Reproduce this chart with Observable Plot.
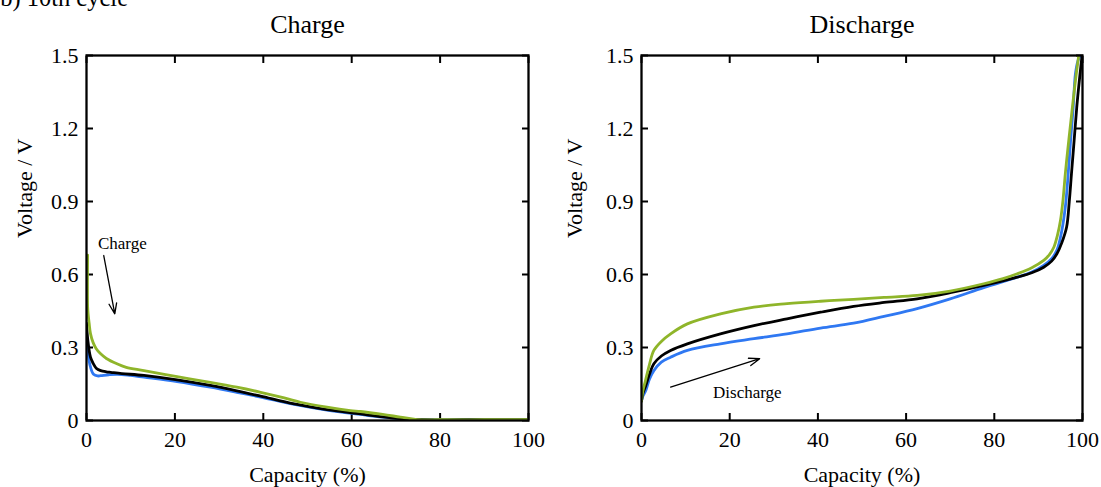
<!DOCTYPE html>
<html>
<head>
<meta charset="utf-8">
<script src="https://cdn.jsdelivr.net/npm/d3@7"></script>
<script src="https://cdn.jsdelivr.net/npm/@observablehq/plot@0.6"></script>
<style>
  html, body { margin: 0; padding: 0; background: #fff; }
  #wrap { position: relative; width: 1101px; height: 487px; overflow: hidden; }
  #left, #right { position: absolute; top: 0; }
  #left { left: 0; }
  #right { left: 550px; }
</style>
</head>
<body>
<div id="wrap"><div id="left"></div><div id="right"></div></div>
<script>
// ---- Data (Capacity %, Voltage V) ----
const panelTitles = ["Charge", "Discharge"];
const figureLabel = "(b) 10th cycle";
const xTicks = [0, 20, 40, 60, 80, 100];
const yTicks = [0, 0.3, 0.6, 0.9, 1.2, 1.5];
const yTickLabels = ["0", "0.3", "0.6", "0.9", "1.2", "1.5"];
const seriesColors = {blue: "#2f78f2", black: "#000000", green: "#8fb52a"};

// Charge
const chargeBlueCap = [0, 0.3, 0.9, 1.6, 2.5, 3.2, 5, 7, 10, 13, 20.5, 28, 34, 39.4, 47, 54.4, 62, 67, 72, 76, 85, 100];
const chargeBlueV   = [0.35, 0.28, 0.22, 0.19, 0.183, 0.184, 0.188, 0.19, 0.185, 0.178, 0.16, 0.137, 0.116, 0.096, 0.066, 0.043, 0.025, 0.014, 0.006, 0.003, 0.003, 0.003];
const chargeBlackCap = [0, 0.3, 0.9, 1.5, 2.2, 3.2, 4.5, 5.5, 8, 13, 20.5, 28, 34, 39.4, 47, 54.4, 62, 67, 72, 76, 85, 100];
const chargeBlackV   = [0.40, 0.33, 0.26, 0.235, 0.215, 0.205, 0.2, 0.198, 0.193, 0.185, 0.167, 0.144, 0.122, 0.1, 0.068, 0.045, 0.027, 0.015, 0.006, 0.003, 0.003, 0.003];
const chargeGreenCap = [0.25, 0.25, 0.35, 0.6, 0.9, 1.5, 2.2, 3.2, 4.5, 6.9, 9, 13, 20.5, 28, 34, 39.4, 44, 48.4, 54.4, 59.7, 62, 67, 71, 74.8, 80, 90, 100];
const chargeGreenV   = [0.68, 0.47, 0.44, 0.40, 0.357, 0.32, 0.295, 0.274, 0.255, 0.233, 0.218, 0.205, 0.18, 0.157, 0.137, 0.116, 0.096, 0.075, 0.055, 0.041, 0.037, 0.025, 0.014, 0.004, 0.003, 0.003, 0.004];

// Discharge
const dischBlueCap = [0, 0.3, 0.9, 1.8, 2.8, 4.5, 6.6, 10.4, 17.9, 25.5, 33, 40.6, 48.1, 55, 62.5, 70, 77.6, 85.2, 88.5, 91.2, 93, 94.2, 95.2, 96.1, 96.7, 97.3, 97.9, 98.4, 99, 99.5];
const dischBlueV   = [0.08, 0.1, 0.12, 0.17, 0.205, 0.24, 0.26, 0.288, 0.315, 0.336, 0.356, 0.38, 0.40, 0.428, 0.46, 0.5, 0.546, 0.589, 0.61, 0.637, 0.665, 0.7, 0.77, 0.877, 1.0, 1.151, 1.29, 1.425, 1.48, 1.5];
const dischBlackCap = [0, 0.3, 0.9, 1.8, 2.8, 4.5, 6.6, 10.4, 17.9, 25.5, 33, 40.6, 48.1, 55, 62.5, 70, 77.6, 85.2, 88.5, 91.2, 93, 94.2, 95.3, 96.4, 97, 97.5, 98.1, 98.7, 99.3, 99.9];
const dischBlackV   = [0.08, 0.11, 0.14, 0.19, 0.233, 0.265, 0.288, 0.315, 0.356, 0.39, 0.418, 0.445, 0.469, 0.485, 0.5, 0.525, 0.555, 0.589, 0.607, 0.63, 0.655, 0.685, 0.73, 0.795, 0.9, 1.014, 1.15, 1.288, 1.4, 1.5];
const dischGreenCap = [0, 0.3, 0.9, 1.8, 2.8, 4.5, 6.6, 10.4, 17.9, 25.5, 33, 40.6, 48.1, 55, 62.5, 70, 77.6, 82, 85.2, 88.5, 91.2, 92.5, 93.5, 94.3, 95, 95.6, 96.1, 96.7, 97.3, 98.4, 99.2];
const dischGreenV   = [0.08, 0.12, 0.164, 0.23, 0.288, 0.325, 0.356, 0.397, 0.438, 0.466, 0.48, 0.49, 0.498, 0.506, 0.514, 0.532, 0.562, 0.583, 0.603, 0.628, 0.658, 0.682, 0.712, 0.76, 0.822, 0.91, 1.014, 1.12, 1.22, 1.397, 1.507];

// Annotations
const chargeNote = {text: "Charge", x: 8.1, y: 0.727, ax1: 3.9, ay1: 0.678, ax2: 6.4, ay2: 0.438};
const dischNote = {text: "Discharge", x: 24, y: 0.116, ax1: 6.6, ay1: 0.137, ax2: 26.8, ay2: 0.254};

function toRows(cap, v, s) { return cap.map((c, i) => ({cap: c, v: v[i], s})); }

const FONT = "'Liberation Serif', 'Times New Roman', serif";

function panel({title, series, note, marginLeft, marginRight, extraLabel}) {
  const rows = series.flatMap(d => toRows(d.cap, d.v, d.s));
  const marks = [
    // inward ticks on all four sides
    Plot.axisX(xTicks, {anchor: "bottom", tickSize: -7, strokeWidth: 2, text: null}),
    Plot.axisX(xTicks, {anchor: "top", tickSize: -7, strokeWidth: 2, text: null}),
    Plot.axisY(yTicks, {anchor: "left", tickSize: -7, strokeWidth: 2, text: null}),
    Plot.axisY(yTicks, {anchor: "right", tickSize: -7, strokeWidth: 2, text: null}),
    // tick labels
    Plot.axisX(xTicks, {anchor: "bottom", tickSize: 0, tickPadding: 11, fontSize: 22, label: null, tickFormat: d => String(d)}),
    Plot.axisY(yTicks, {anchor: "left", tickSize: 0, tickPadding: 8, fontSize: 22, label: null, tickFormat: (d, i) => yTickLabels[i]}),
    // data lines
    Plot.line(rows, {x: "cap", y: "v", z: "s", stroke: d => seriesColors[d.s], strokeWidth: 2.8, curve: "catmull-rom", clip: true}),
    // annotations
    Plot.arrow([note], {x1: "ax1", y1: "ay1", x2: "ax2", y2: "ay2", stroke: "black", strokeWidth: 1.3, headLength: 13, headAngle: 40}),
    Plot.text([note], {x: "x", y: "y", text: "text", fontSize: 17, fill: "black"}),
    // axis labels & title
    Plot.text(["Capacity (%)"], {frameAnchor: "bottom", dy: 61, fontSize: 22, fill: "black"}),
    Plot.text(["Voltage / V"], {frameAnchor: "left", dx: -(marginLeft - 24), rotate: -90, fontSize: 22, fill: "black"}),
    Plot.text([title], {frameAnchor: "top", dy: -41, fontSize: 26, fill: "black"}),
    Plot.frame({stroke: "black", strokeWidth: 2.3})
  ];
  if (extraLabel) {
    marks.push(Plot.text([extraLabel], {frameAnchor: "top-left", textAnchor: "start", dx: -marginLeft - 8.5, dy: -66.5, fontSize: 24.5, fill: "black"}));
  }
  return Plot.plot({
    width: 551,
    height: 487,
    marginLeft, marginRight,
    marginTop: 55,
    marginBottom: 67,
    style: {fontFamily: FONT, color: "black", background: "white", overflow: "visible"},
    x: {domain: [0, 100], axis: null},
    y: {domain: [0, 1.5], axis: null},
    marks
  });
}

document.getElementById("left").append(panel({
  title: panelTitles[0],
  series: [
    {cap: chargeBlueCap, v: chargeBlueV, s: "blue"},
    {cap: chargeBlackCap, v: chargeBlackV, s: "black"},
    {cap: chargeGreenCap, v: chargeGreenV, s: "green"}
  ],
  note: chargeNote, marginLeft: 86, marginRight: 23, extraLabel: figureLabel
}));

document.getElementById("right").append(panel({
  title: panelTitles[1],
  series: [
    {cap: dischBlueCap, v: dischBlueV, s: "blue"},
    {cap: dischBlackCap, v: dischBlackV, s: "black"},
    {cap: dischGreenCap, v: dischGreenV, s: "green"}
  ],
  note: dischNote, marginLeft: 91, marginRight: 19
}));
</script>
</body>
</html>
